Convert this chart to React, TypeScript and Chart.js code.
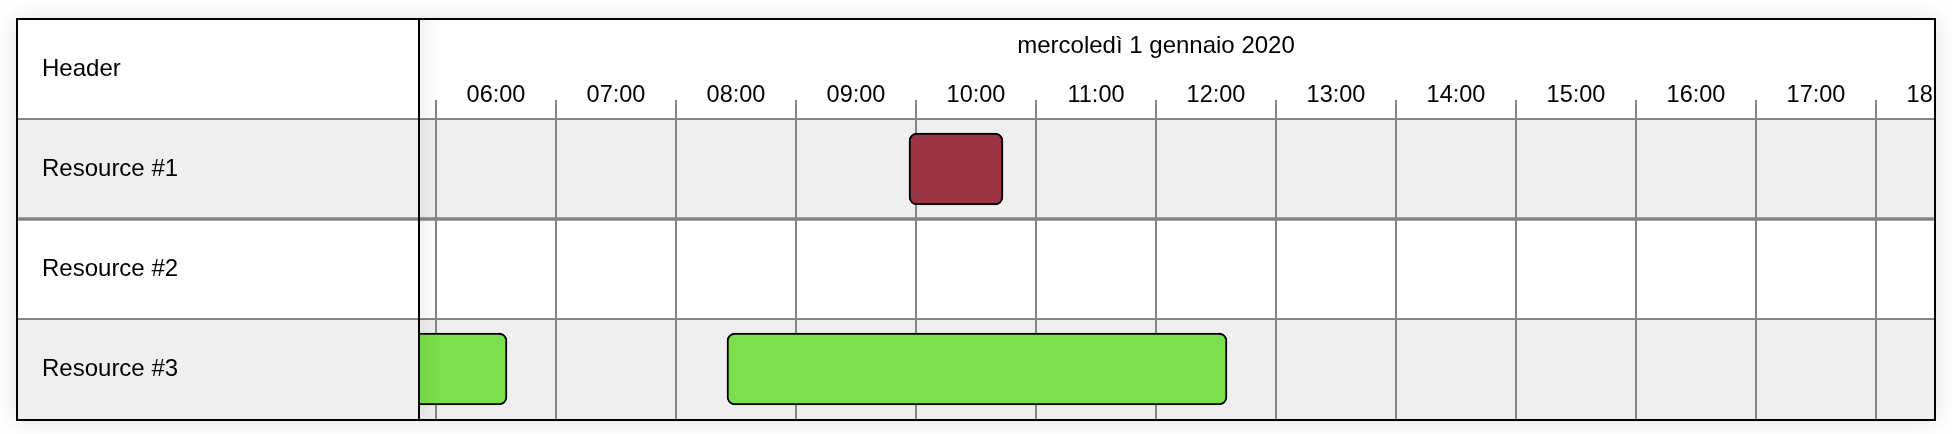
import { useEffect, useRef } from "react";
import { Chart, registerables } from "chart.js";

Chart.register(...registerables);

// ---- data ----
const resources = ["Resource #1", "Resource #2", "Resource #3"];
const headerLabel = "Header";
const dayLabel = "mercoledì 1 gennaio 2020";
const dayMidpoint = "12:00";
const hourLabels = [
  "06:00", "07:00", "08:00", "09:00", "10:00", "11:00", "12:00",
  "13:00", "14:00", "15:00", "16:00", "17:00", "18:00",
];
const viewStart = "05:51.5";
const viewEnd = "18:29";
const eventResource = ["Resource #1", "Resource #3", "Resource #3"];
const eventStart = ["09:56.5", "05:00", "08:25.5"];
const eventEnd = ["10:43.5", "06:35.5", "12:35.5"];
const eventColor = ["#9a3442", "#7ae04b", "#7ae04b"];

const toMin = (s: string) => {
  const [h, m] = s.split(":");
  return Number(h) * 60 + Number(m);
};

const FAMILY = "'Liberation Sans', Arial, sans-serif";
const FONT = { family: FAMILY, size: 24, lineHeight: 1 };
const HOUR_FONT = { family: FAMILY, size: 23.5, lineHeight: 1 };

const ganttPlugin = {
  id: "ganttRows",
  beforeDraw(chart: any) {
    const { ctx, chartArea, width, height } = chart;
    const y = chart.scales.y;
    ctx.save();
    ctx.fillStyle = "#ffffff";
    ctx.fillRect(0, 0, width, height);
    resources.forEach((_r, i) => {
      const top = y.getPixelForValue(i - 0.5);
      const bottom = y.getPixelForValue(i + 0.5);
      ctx.fillStyle = i % 2 === 0 ? "#efefef" : "#ffffff";
      ctx.fillRect(0, top, width, bottom - top);
    });
    ctx.fillStyle = "#000";
    ctx.font = `24px ${FAMILY}`;
    ctx.textBaseline = "middle";
    ctx.textAlign = "left";
    ctx.fillText(headerLabel, y.left, chartArea.top / 2);
    ctx.restore();
  },
  beforeDatasetsDraw(chart: any) {
    const { ctx, width } = chart;
    const y = chart.scales.y;
    ctx.save();
    ctx.fillStyle = "#858585";
    for (let i = 0; i < resources.length; i++) {
      const yy = y.getPixelForValue(i - 0.5);
      const lw = i === 1 ? 3.5 : 2;
      ctx.fillRect(0, yy - lw / 2, width, lw);
    }
    ctx.restore();
  },
  afterDraw(chart: any) {
    const { ctx, chartArea, height } = chart;
    ctx.save();
    const g = ctx.createLinearGradient(chartArea.left, 0, chartArea.left + 22, 0);
    g.addColorStop(0, "rgba(0,0,0,0.05)");
    g.addColorStop(1, "rgba(0,0,0,0)");
    ctx.fillStyle = g;
    ctx.fillRect(chartArea.left, 0, 22, height);
    ctx.fillStyle = "#000";
    ctx.fillRect(chartArea.left - 1, 0, 2, height);
    ctx.restore();
  },
};

export default function App() {
  const ref = useRef<HTMLCanvasElement>(null);
  useEffect(() => {
    const min = toMin(viewStart);
    const max = toMin(viewEnd);
    const chart = new Chart(ref.current as HTMLCanvasElement, {
      type: "bar",
      data: {
        labels: resources,
        datasets: [
          {
            data: eventResource.map((r, i) => ({
              x: [toMin(eventStart[i]), toMin(eventEnd[i])],
              y: r,
            })) as any,
            backgroundColor: eventColor,
            borderColor: "#000000",
            borderWidth: 2,
            borderRadius: 8,
            borderSkipped: false,
            barThickness: 72,
          },
        ],
      },
      options: {
        indexAxis: "y",
        responsive: false,
        maintainAspectRatio: false,
        animation: false,
        devicePixelRatio: 1,
        events: [],
        layout: { padding: { left: 24, top: 0, right: 0, bottom: 0 } },
        plugins: { legend: { display: false }, tooltip: { enabled: false }, title: { display: false } },
        scales: {
          x: {
            type: "linear",
            position: "top",
            weight: 1,
            min,
            max,
            afterBuildTicks: (s: any) => {
              s.ticks = hourLabels.map((h) => ({ value: toMin(h) }));
            },
            afterFit: (s: any) => {
              s.height = 49;
              s.paddingLeft = 0;
              s.paddingRight = 0;
            },
            ticks: {
              callback: (_v: any, i: number) => hourLabels[i],
              labelOffset: 60,
              padding: -7,
              autoSkip: false,
              maxRotation: 0,
              color: "#000",
              font: HOUR_FONT,
            },
            grid: { color: "#858585", lineWidth: 2, tickLength: 19, drawTicks: true },
            border: { display: false },
          },
          xDay: {
            type: "linear",
            axis: "x",
            position: "top",
            weight: 2,
            min,
            max,
            afterBuildTicks: (s: any) => {
              s.ticks = [{ value: toMin(dayMidpoint) }];
            },
            afterFit: (s: any) => {
              s.height = 50;
              s.paddingLeft = 0;
              s.paddingRight = 0;
            },
            ticks: {
              callback: () => dayLabel,
              padding: 12,
              autoSkip: false,
              maxRotation: 0,
              color: "#000",
              font: FONT,
            },
            grid: { display: false, drawTicks: false },
            border: { display: false },
          },
          y: {
            type: "category",
            position: "left",
            afterFit: (s: any) => {
              s.width = 377;
              s.paddingTop = 0;
              s.paddingBottom = 0;
            },
            ticks: { crossAlign: "far", padding: 0, color: "#000", font: FONT },
            grid: { display: false, drawTicks: false },
            border: { display: false },
          },
        } as any,
      },
      plugins: [ganttPlugin],
    });
    return () => chart.destroy();
  }, []);

  return (
    <div
      style={{
        position: "absolute",
        left: 16,
        top: 18,
        width: 1920,
        height: 403,
        boxSizing: "border-box",
        border: "2px solid #000",
        boxShadow: "0 0 22px rgba(0,0,0,0.12)",
        background: "#fff",
      }}
    >
      <canvas ref={ref} width={1916} height={399} style={{ display: "block", width: 1916, height: 399 }} />
    </div>
  );
}
